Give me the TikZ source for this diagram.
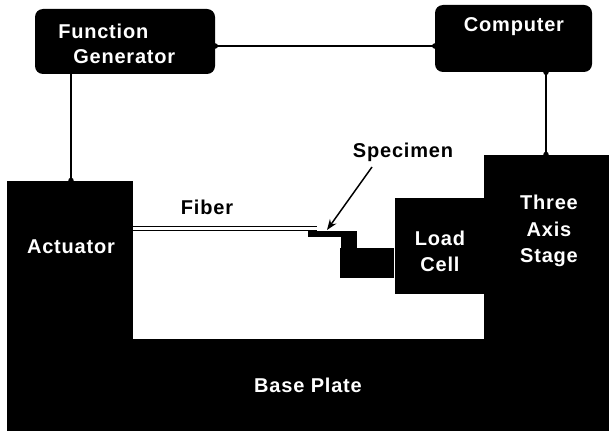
\documentclass[tikz,border=0pt]{standalone}
\usepackage{fontspec}
\setmainfont[LetterSpace=4]{Liberation Sans}
\usetikzlibrary{arrows.meta,positioning}
\tikzset{
  block/.style={fill=black,text=white,inner sep=0pt},
  box/.style={block,rounded corners=6pt},
  size/.style 2 args={minimum width=#1*0.75pt,minimum height=#2*0.75pt},
  lab/.style={inner sep=0pt,align=center,font=\fontsize{15}{19.5}\selectfont\bfseries},
  inlab/.style={lab,text=white},
  wire/.style={line width=0.9pt,{Circle[length=4pt]}-{Circle[length=4pt]},shorten <=-2pt,shorten >=-2pt},
}
\begin{document}
\begin{tikzpicture}[x=0.75pt,y=-0.75pt]
\useasboundingbox (0,0) rectangle (609,431);
\node[box,size={180}{65}] (func) at (125,41.5) {};
\node[box,size={157}{67}] (comp) at (513.5,38.5) {};
\node[block,size={602}{92},anchor=north east] (base) at (609,339) {};
\node[block,size={125.5}{158},anchor=south west] (act) at (7,339) {};
\node[block,size={125}{184},anchor=south east] (stage) at (609,339) {};
\node[block,size={90}{96},anchor=north east] (cell) at (485,198) {};
\node[block,size={54}{30},anchor=east] (stub) at (cell.west |- 0,263) {};
\node[block,size={16}{47},anchor=north east] (post) at (357,231) {};
\node[block,size={49}{6},anchor=north east] (spec) at (357,231) {};
\node[inlab,anchor=west] (funct) at (58,31) {Function};
\node[inlab,anchor=west] (gent) at (73,57) {Generator};
\node[inlab] (compt) at (514,27) {Computer};
\node[inlab] (actt) at (71,247) {Actuator};
\node[inlab] (cellt) at (440,251) {Load\\Cell};
\node[inlab,font=\fontsize{15}{20}\selectfont\bfseries] (staget) at (549,231) {Three\\Axis\\Stage};
\node[inlab] (baset) at (308,385) {Base Plate};
\node[lab] (fibert) at (207,207) {Fiber};
\node[lab] (spect) at (403,152) {Specimen};
\coordinate (tip) at (327,230);
\coordinate (from) at (372,167);
\draw[wire] (func.east |- 0,46) -- (comp.west |- 0,46);
\draw[line width=0.9pt,-{Circle[length=4pt]},shorten >=-2pt] (func.south -| 71,0) -- (act.north -| 71,0);
\draw[wire] (comp.south -| 546,0) -- (stage.north -| 546,0);
\draw[line width=0.9pt,double=white,double distance=2.2pt] (act.east |- 0,228.5) -- (317,228.5);
\draw[-Stealth,line width=1.1pt] (from) -- (tip);
\end{tikzpicture}
\end{document}
